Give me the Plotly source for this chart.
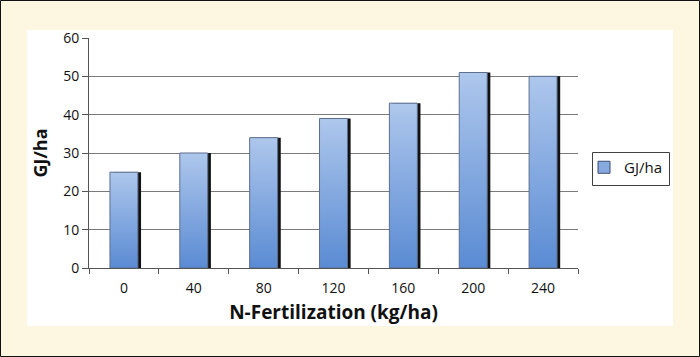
import plotly.graph_objects as go

categories = ["0", "40", "80", "120", "160", "200", "240"]
values = [25, 30, 34, 39, 43, 51, 50]
series_name = "GJ/ha"
y_ticks = [0, 10, 20, 30, 40, 50, 60]

W, H = 700, 357
L, R, T, B = 89, 122, 38, 89
pw, ph = W - L - R, H - T - B

def px_x(p):
    return (p - L) / pw

def px_y(p):
    return (H - B - p) / ph

FONT = "Open Sans"
idx = list(range(len(categories)))
bw = 0.4
shift = 0.045

fig = go.Figure()

# shadow bars
fig.add_trace(go.Bar(
    x=idx, y=values, width=bw, offset=-bw / 2 + shift,
    marker=dict(color="#111111", line=dict(width=0)),
    showlegend=False, hoverinfo="skip",
))

# gradient bars
for i, (c, v) in enumerate(zip(idx, values)):
    fig.add_trace(go.Scatter(
        x=[c - bw / 2, c + bw / 2, c + bw / 2, c - bw / 2, c - bw / 2],
        y=[0, 0, v, v, 0],
        mode="lines", fill="toself",
        fillgradient=dict(type="vertical",
                          colorscale=[[0, "#5A8BD3"], [1, "#AEC7EC"]]),
        line=dict(color="#5d6f8f", width=1),
        showlegend=False, hoverinfo="skip",
    ))

# legend entry
fig.add_trace(go.Bar(
    x=[None], y=[None], name=series_name,
    marker=dict(color="#86A9DF", line=dict(color="#3d4f6f", width=1)),
    showlegend=True,
))

fig.update_layout(
    width=W, height=H,
    margin=dict(l=L, r=R, t=T, b=B),
    paper_bgcolor="#FDF7E1",
    plot_bgcolor="white",
    barmode="overlay",
    font=dict(family=FONT, size=14, color="#111111"),
    showlegend=True,
    legend=dict(
        x=px_x(584), y=px_y(151), xanchor="left", yanchor="top",
        borderwidth=0, bgcolor="rgba(0,0,0,0)",
        font=dict(family=FONT, size=15, color="#111111"),
        itemwidth=30,
    ),
    xaxis=dict(
        range=[-0.5, 6.5], tickmode="array", tickvals=idx, ticktext=categories,
        ticks="outside", ticklen=7, tickcolor="rgba(0,0,0,0)",
        showgrid=False, zeroline=False,
        showline=True, linecolor="#555555", linewidth=1,
        minor=dict(tickmode="array", tickvals=[k - 0.5 for k in range(len(categories) + 1)],
                   ticks="outside", ticklen=5, tickcolor="#555555", showgrid=False),
        tickfont=dict(size=14),
        title=dict(text="<b>N-Fertilization (kg/ha)</b>", font=dict(size=19), standoff=9),
    ),
    yaxis=dict(
        range=[0, 60], tickmode="array", tickvals=y_ticks,
        ticks="outside", ticklen=6, tickcolor="#555555",
        showgrid=True, gridcolor="#7a7a7a", gridwidth=1, zeroline=False,
        showline=True, linecolor="#555555", linewidth=1,
        tickfont=dict(size=14),
        title=dict(text="<b>GJ/ha</b>", font=dict(size=18), standoff=10),
    ),
    shapes=[
        dict(type="rect", xref="paper", yref="paper", layer="below",
             x0=px_x(27), x1=px_x(673), y0=px_y(326), y1=px_y(30),
             fillcolor="white", line=dict(width=0)),
        dict(type="rect", xref="paper", yref="paper", layer="above",
             x0=px_x(592.5), x1=px_x(669.5), y0=px_y(185.5), y1=px_y(152.5),
             fillcolor="rgba(0,0,0,0)", line=dict(color="#404040", width=1)),
        dict(type="rect", xref="paper", yref="paper", layer="above",
             x0=px_x(0.5), x1=px_x(699.5), y0=px_y(356.5), y1=px_y(0.5),
             fillcolor="rgba(0,0,0,0)", line=dict(color="#111111", width=1)),
    ],
)

fig.write_html("out.html", post_script="document.body.style.margin='0';",
               config={"displayModeBar": False})
